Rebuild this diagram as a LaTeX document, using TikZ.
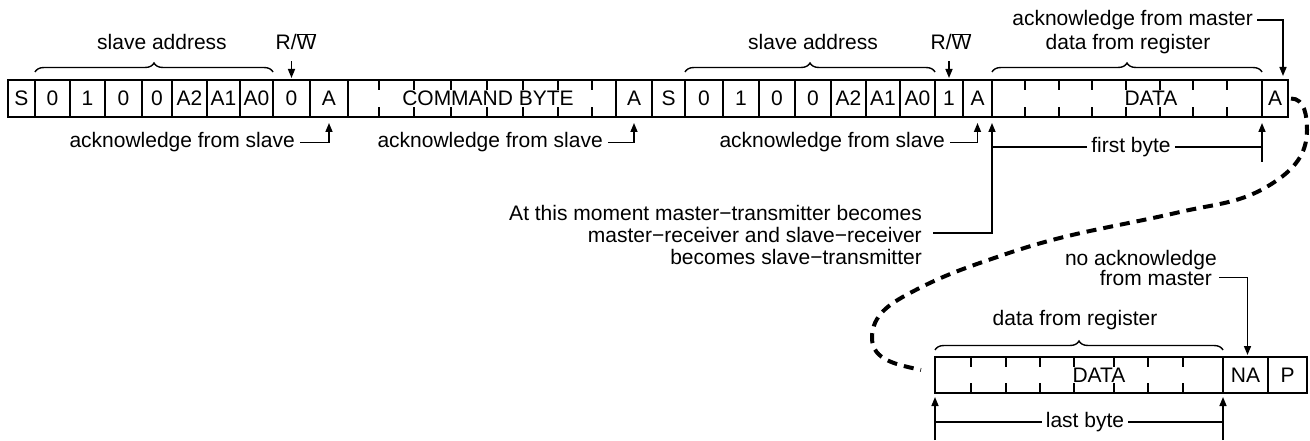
\documentclass[tikz,border=0pt]{standalone}
\usepackage{fontspec}
\setmainfont{Liberation Sans}
\usetikzlibrary{arrows.meta,decorations.pathreplacing,calc}
\begin{document}
\begin{tikzpicture}[x=1pt,y=1pt,
  every node/.style={font=\fontsize{21}{25}\selectfont},
  cellbox/.style={draw,line width=2.6pt,inner sep=0pt,outer sep=0pt,minimum height=37pt},
  tickln/.style={line width=2.4pt},
  conn/.style={line width=1.5pt},
  arr/.style={conn,-{Triangle[length=9pt,width=7pt]}},
  lbl/.style={inner sep=1pt},
  bracel/.style={line width=1.4pt,decorate,decoration={brace,amplitude=9pt}},
  dashc/.style={line width=4pt,dash pattern=on 10pt off 7pt}
]
\useasboundingbox (0,0) rectangle (1310,-441);

% ---- first row of cells
\foreach \n/\l/\r/\t in {c1/8/35/S, c2/35/70/0, c3/70/105/1, c4/105/142/0, c5/142/172/0,
  c6/172/207/A2, c7/207/240/A1, c8/240/273/A0, c9/273/310/0, c10/310/348/A,
  c11/616/652/A, c12/652/685/S, c13/685/723/0, c14/723/759/1, c15/759/795/0,
  c16/795/831/0, c17/831/866/A2, c18/866/900/A1, c19/900/935/A0, c20/935/963/1,
  c21/963/992/A, c22/1262/1288/A}
  \node[cellbox,minimum width={(\r-\l)*1pt}] (\n) at ({(\l+\r)/2},-98.5) {\t};
\node[cellbox,minimum width=268pt] (cb) at (482,-98.5) {};
\node[cellbox,minimum width=270pt] (d1) at (1127,-98.5) {};
\node (cbt) at (488,-98.5) {COMMAND BYTE};
\node (dt1) at (1151,-98.5) {DATA};
\foreach \x in {379,414,451,487,523,558,592,1025,1059,1092,1126,1160,1193,1227}
  \draw[tickln] (\x,-80) -- (\x,-90) (\x,-117) -- (\x,-107);

% ---- second row of cells
\node[cellbox,minimum width=288pt,minimum height=36pt] (d2) at (1079,-375) {};
\node[cellbox,minimum width=45pt,minimum height=36pt] (na) at (1245.5,-375) {NA};
\node[cellbox,minimum width=39pt,minimum height=36pt] (p) at (1287.5,-375) {P};
\node (dt2) at (1099,-375) {DATA};
\foreach \x in {971,1006,1040,1074,1114,1148,1183}
  \draw[tickln] (\x,-357) -- (\x,-367) (\x,-393) -- (\x,-383);

% ---- braces and labels above
\node[lbl,anchor=base] (sa1) at (162,-50) {slave address};
\draw[bracel] ([yshift=8pt]c2.north west) -- ([yshift=8pt]c8.north east);
\node[lbl,anchor=base] (sa2) at (813,-50) {slave address};
\draw[bracel] ([yshift=8pt]c13.north west) -- ([yshift=8pt]c19.north east);
\node[lbl,anchor=base] (dr1) at (1128,-50) {data from register};
\draw[bracel] ([yshift=8pt]d1.north west) -- ([yshift=8pt]d1.north east);

\node[lbl,anchor=base] (rw1) at (296,-50) {R/$\overline{\hbox{W}}$};
\draw[arr] ($(rw1.south -| c9.north)+(0,-10)$) -- ([yshift=2pt]c9.north);
\node[lbl,anchor=base] (rw2) at (951,-50) {R/$\overline{\hbox{W}}$};
\draw[arr] ($(rw2.south -| c20.north)+(0,-10)$) -- ([yshift=2pt]c20.north);

\node[lbl,anchor=east] (am) at (1254,-20) {acknowledge from master};
\draw[arr] ([xshift=3pt]am.east) -| ([xshift=8pt,yshift=4pt]c22.north);

% ---- acknowledges from slave
\node[lbl,anchor=east] (as1) at (296,-142.5) {acknowledge from slave};
\draw[arr] ([xshift=4pt]as1.east) -| ([yshift=-6pt]c10.south);
\node[lbl,anchor=east] (as2) at (604,-142.5) {acknowledge from slave};
\draw[arr] ([xshift=4pt]as2.east) -| ([yshift=-6pt]c11.south);
\node[lbl,anchor=east] (as3) at (946,-142.5) {acknowledge from slave};
\draw[arr] ([xshift=4pt]as3.east) -| ([yshift=-6pt]c21.south);

% ---- first byte
\node[lbl,inner sep=4pt] (fb) at (1131,-147) {first byte};
\draw[conn] (fb.west) -- (fb.west -| d1.south west);
\draw[conn] (fb.east) -- (fb.east -| d1.south east);
\draw[arr] ($(d1.south east)+(0,-45)$) -- ([yshift=-6pt]d1.south east);

\node[lbl,anchor=east,align=right,font=\fontsize{21}{22}\selectfont] (mom) at (923,-234.5)
  {At this moment master−transmitter becomes\\master−receiver and slave−receiver\\becomes slave−transmitter};
\draw[arr] ([xshift=10pt,yshift=1.5pt]mom.east) -| ([yshift=-6pt]d1.south west);

% ---- second row labels
\node[lbl,anchor=base east] (na1) at (1218,-265) {no acknowledge};
\node[lbl,anchor=base east] (na2) at (1213,-285) {from master};
\draw[arr] ([xshift=6pt]na2.east) -| ([xshift=2pt,yshift=2pt]na.north);

\node[lbl,anchor=base] (dr2) at (1075,-325) {data from register};
\draw[bracel] ([yshift=7pt]d2.north west) -- ([yshift=7pt]d2.north east);

\node[lbl,inner sep=4pt] (lb) at (1085,-422) {last byte};
\draw[conn] (lb.west) -- (lb.west -| d2.south west);
\draw[conn] (lb.east) -- (lb.east -| d2.south east);
\draw[arr] ($(d2.south west)+(0,-47)$) -- ([yshift=-4pt]d2.south west);
\draw[arr] ($(d2.south east)+(0,-47)$) -- ([yshift=-4pt]d2.south east);

% ---- dashed continuation
\draw[dashc] ([xshift=3pt]c22.east) to[out=0,in=90] (1307,-130)
  to[out=-90,in=33] (1273,-183) to[out=213,in=13] (1180,-212)
  to[out=193,in=19] (1003,-255) to[out=199,in=28] (910,-293)
  to[out=208,in=90] (872,-338) to[out=-90,in=167] ([xshift=-14pt,yshift=5pt]d2.west);
\end{tikzpicture}
\end{document}
